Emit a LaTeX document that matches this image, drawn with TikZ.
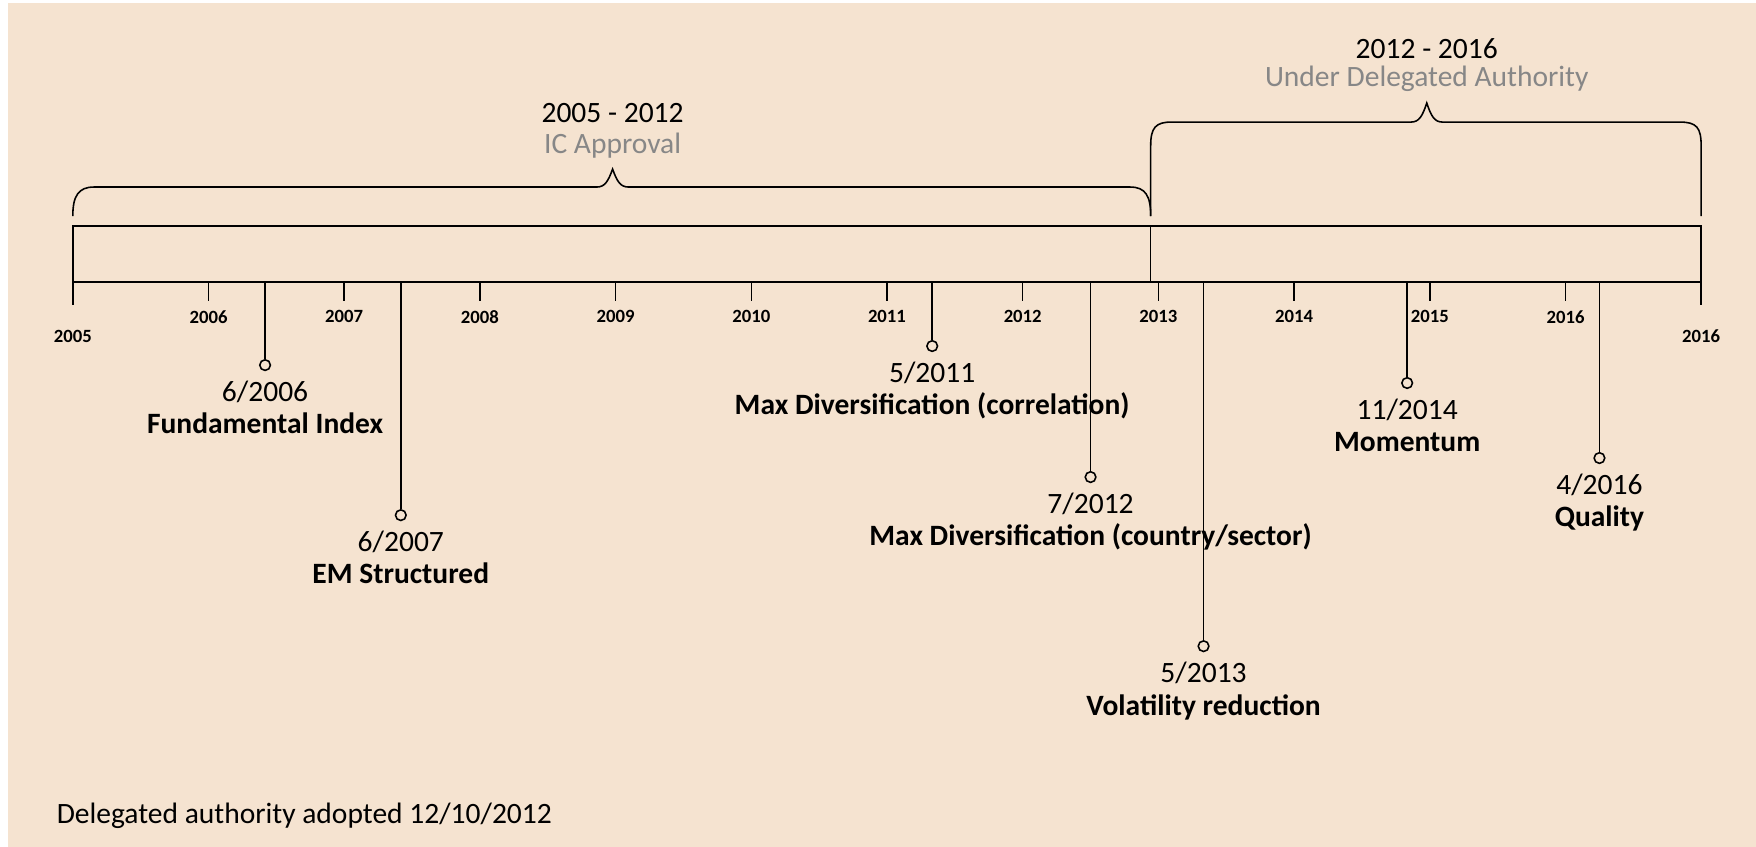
\documentclass[tikz,border=0pt]{standalone}
\usepackage{fontspec}
\setmainfont{Carlito}
\usepackage{tikz}
\usetikzlibrary{positioning}

\definecolor{paper}{RGB}{245,227,208}
\definecolor{softgray}{RGB}{135,135,135}

\begin{document}
\begin{tikzpicture} [x=0.2mm, y=-0.2mm, line width=0.8pt]
            % Set primary nodes
            \tikzset{
                yearLabel/.style={
                        font=\bfseries\fontsize{9.5}{11}\selectfont,
                        inner sep=0pt
                    }
            }
            \tikzset{
                eventDot/.style={
                        circle,
                        draw,
                        fill=paper,
                        minimum size=1.9mm,
                        inner sep=0pt
                    }
            }
            \tikzset{
                eventLabel/.style={
                        font=\fontsize{15}{16.5}\selectfont,
                        align=center,
                        inner sep=0pt
                    }
            }
            \tikzset{
                periodLabel/.style={
                        font=\fontsize{15}{16.5}\selectfont,
                        inner sep=0pt
                    }
            }
            % Background
            \useasboundingbox (0,0) rectangle (1568,756);
            \fill[white] (0,0) rectangle (1568,756);
            \fill[paper] (7,3) rectangle (1568,756);
            % Timeline box
            \draw (65,202) rectangle (1519,252);
            \draw (1027.5,202) -- (1027.5,252);
            % Ticks
            \draw (65,252) -- ++(0,20);
            \draw (186.2,252) -- ++(0,17);
            \draw (307.3,252) -- ++(0,17);
            \draw (428.5,252) -- ++(0,17);
            \draw (549.7,252) -- ++(0,17);
            \draw (670.9,252) -- ++(0,17);
            \draw (792.0,252) -- ++(0,17);
            \draw (913.2,252) -- ++(0,17);
            \draw (1034.4,252) -- ++(0,17);
            \draw (1155.5,252) -- ++(0,17);
            \draw (1276.7,252) -- ++(0,17);
            \draw (1397.9,252) -- ++(0,17);
            \draw (1519,252) -- ++(0,20);
            % Year labels
            \node[yearLabel](y2005) at (65,300){2005};
            \node[yearLabel](y2006) at (186.2,283){2006};
            \node[yearLabel](y2007) at (307.3,283){2007};
            \node[yearLabel](y2008) at (428.5,283){2008};
            \node[yearLabel](y2009) at (549.7,283){2009};
            \node[yearLabel](y2010) at (670.9,283){2010};
            \node[yearLabel](y2011) at (792.0,283){2011};
            \node[yearLabel](y2012) at (913.2,283){2012};
            \node[yearLabel](y2013) at (1034.4,283){2013};
            \node[yearLabel](y2014) at (1155.5,283){2014};
            \node[yearLabel](y2015) at (1276.7,283){2015};
            \node[yearLabel](y2016) at (1397.9,283){2016};
            \node[yearLabel](yend) at (1519,300){2016};
            % Braces
            \draw (65,193) .. controls (65,175) and (70,167) .. (84,167) -- (533,167)
                .. controls (540,167) and (543,162) .. (547,151)
                .. controls (551,162) and (554,167) .. (561,167) -- (1009,167)
                .. controls (1023,167) and (1027.5,175) .. (1027.5,193);
            \draw (1027.5,193) -- (1027.5,130) .. controls (1027.5,114) and (1032,109) .. (1046,109) -- (1260,109)
                .. controls (1267,109) and (1270,104) .. (1274,92)
                .. controls (1278,104) and (1281,109) .. (1288,109) -- (1500,109)
                .. controls (1515,109) and (1519,114) .. (1519,130) -- (1519,193);
            \node[periodLabel](icYears) at (547,101){2005 - 2012};
            \node[periodLabel, text=softgray](icText) at (547,130){IC Approval};
            \node[periodLabel](daYears) at (1274,43){2012 - 2016};
            \node[periodLabel, text=softgray](daText) at (1274,70){Under Delegated Authority};
            % Axis points
            \coordinate (t2006) at (236.7,252);
            \coordinate (t2007) at (357.9,252);
            \coordinate (t2011) at (832.4,252);
            \coordinate (t2012) at (973.8,252);
            \coordinate (t2013) at (1074.7,252);
            \coordinate (t2014) at (1256.5,252);
            \coordinate (t2016) at (1428.2,252);
            % Placing nodes
            \node[eventDot](dot2006) at (236.7,326){};
            \node[eventDot](dot2007) at (357.9,460){};
            \node[eventDot](dot2011) at (832.4,309){};
            \node[eventDot](dot2012) at (973.8,426){};
            \node[eventDot](dot2013) at (1074.7,577){};
            \node[eventDot](dot2014) at (1256.5,342){};
            \node[eventDot](dot2016) at (1428.2,409){};
            \node[eventLabel, below = 1.6mm of dot2006](fundamental){6/2006\\\textbf{Fundamental Index}};
            \node[eventLabel, below = 1.6mm of dot2007](emStructured){6/2007\\\textbf{EM Structured}};
            \node[eventLabel, below = 1.6mm of dot2011](maxCorrelation){5/2011\\\textbf{Max Diversification (correlation)}};
            \node[eventLabel, below = 1.6mm of dot2012](maxCountry){7/2012\\\textbf{Max Diversification (country/sector)}};
            \node[eventLabel, below = 1.6mm of dot2013](volatility){5/2013\\\textbf{Volatility reduction}};
            \node[eventLabel, below = 1.6mm of dot2014](momentum){11/2014\\\textbf{Momentum}};
            \node[eventLabel, below = 1.6mm of dot2016](quality){4/2016\\\textbf{Quality}};
            % Draw stems
            \draw (t2006) -- (dot2006);
            \draw (t2007) -- (dot2007);
            \draw (t2011) -- (dot2011);
            \draw (t2012) -- (dot2012);
            \draw (t2013) -- (dot2013);
            \draw (t2014) -- (dot2014);
            \draw (t2016) -- (dot2016);
            % Note
            \node[periodLabel, anchor=west](note) at (50,728){Delegated authority adopted 12/10/2012};
        \end{tikzpicture}
\end{document}
